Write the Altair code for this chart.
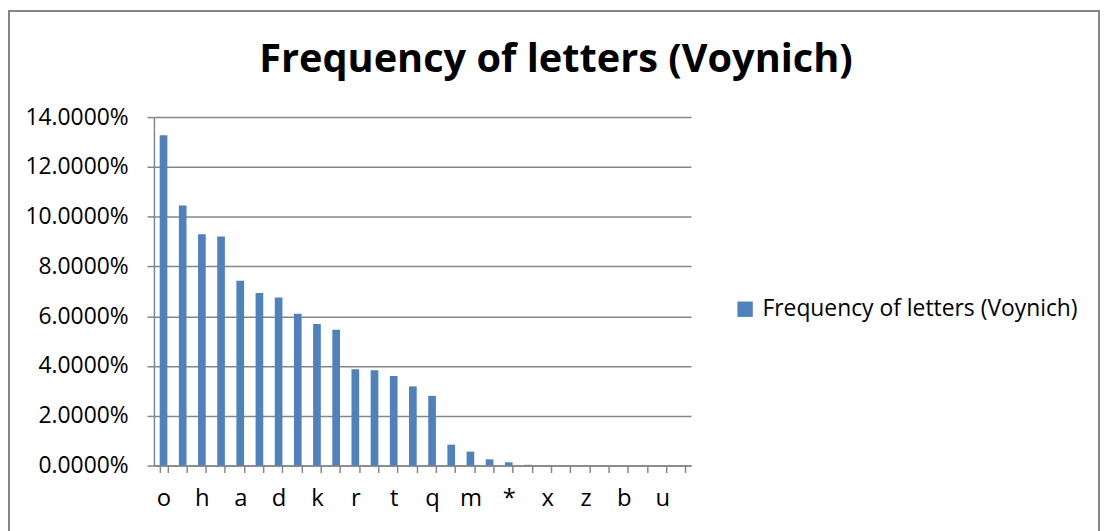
import altair as alt
import pandas as pd

letters = ["o", "e", "h", "y", "a", "c", "d", "i", "k", "l", "r", "s", "t", "n",
           "q", "p", "m", "f", "*", "g", "x", "v", "z", "j", "b", "w", "u", "?"]
freq = [13.27, 10.45, 9.29, 9.20, 7.43, 6.93, 6.75, 6.10, 5.69, 5.46, 3.87, 3.83, 3.60, 3.18,
        2.80, 0.84, 0.56, 0.25, 0.13, 0.03, 0.01, 0.005, 0.004, 0.003, 0.002, 0.002, 0.001, 0.001]
shown = ["o", "h", "a", "d", "k", "r", "t", "q", "m", "*", "x", "z", "b", "u"]
series = "Frequency of letters (Voynich)"

df = pd.DataFrame({"letter": letters, "value": [v / 100 for v in freq], "series": series})
title_df = pd.DataFrame({"t": [series]})

FONT = "Open Sans"
GRAY = "#868686"
W, H = 541, 351
PAD_L, PAD_T = 147, 108
TOTAL_W, TOTAL_H = 1100, 523

shown_js = "[" + ",".join("'" + s + "'" for s in shown) + "]"

bars = alt.Chart(df).mark_bar(color="#4F81BD").encode(
    x=alt.X("letter:N", sort=letters,
            scale=alt.Scale(paddingInner=0.6, paddingOuter=0.3),
            axis=alt.Axis(title=None, labelAngle=0, tickBand="extent",
                          labelExpr="indexof(" + shown_js + ", datum.value) >= 0 ? datum.label : ''",
                          labelFont=FONT, labelFontSize=24, labelColor="#000000",
                          labelPadding=14, tickSize=7, tickColor=GRAY, domainColor=GRAY,
                          tickWidth=1.5, domainWidth=1.5, grid=False)),
    y=alt.Y("value:Q", scale=alt.Scale(domain=[0, 0.14], nice=False),
            axis=alt.Axis(title=None, format=".4%", values=[0, 0.02, 0.04, 0.06, 0.08, 0.10, 0.12, 0.14],
                          labelFont=FONT, labelFontSize=23, labelColor="#000000",
                          labelPadding=19, tickSize=7, tickColor=GRAY, domainColor=GRAY,
                          tickWidth=1.5, domainWidth=1.5,
                          gridColor=GRAY, gridWidth=1.5, gridOpacity=1)),
    color=alt.Color("series:N", scale=alt.Scale(range=["#4F81BD"]),
                    legend=alt.Legend(title=None, orient="none", legendX=584, legendY=182,
                                      symbolType="square", symbolSize=240, symbolStrokeWidth=0,
                                      symbolOpacity=1, labelLimit=0,
                                      labelFont=FONT, labelFontSize=23, labelColor="#000000",
                                      labelOffset=6)),
)

title = alt.Chart(title_df).mark_text(
    font=FONT, fontSize=40, fontWeight="bold", color="#000000",
    align="center", baseline="alphabetic",
).encode(text="t:N", x=alt.value(405), y=alt.value(-45))

border = alt.Chart(df).mark_rect(fill=None, stroke=GRAY, strokeWidth=1.5).encode(
    x=alt.value(-PAD_L + 1), x2=alt.value(TOTAL_W - PAD_L - 1),
    y=alt.value(-PAD_T + 1), y2=alt.value(TOTAL_H - PAD_T + 20),
)

chart = alt.layer(border, bars, title).properties(
    width=W, height=H,
    autosize=alt.AutoSizeParams(type="none"),
    padding={"left": PAD_L, "top": PAD_T, "right": TOTAL_W - PAD_L - W, "bottom": TOTAL_H - PAD_T - H},
).configure(background="white").configure_view(strokeWidth=0)

chart.save("out.html", embed_options={"renderer": "svg", "actions": False})
